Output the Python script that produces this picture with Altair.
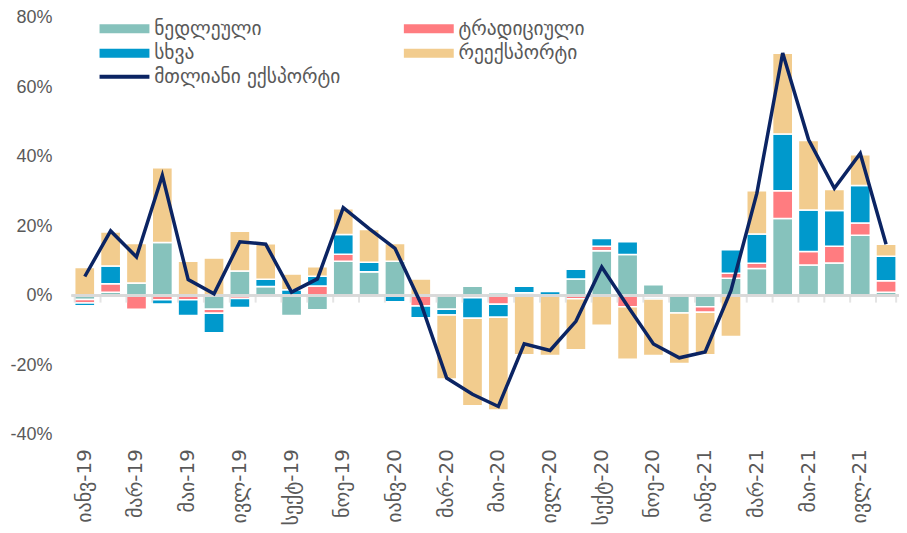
import altair as alt
import pandas as pd

months = [
    "იანვ-19", "თებ-19", "მარ-19", "აპრ-19", "მაი-19", "ივნ-19", "ივლ-19", "აგვ-19",
    "სექტ-19", "ოქტ-19", "ნოე-19", "დეკ-19",
    "იანვ-20", "თებ-20", "მარ-20", "აპრ-20", "მაი-20", "ივნ-20", "ივლ-20", "აგვ-20",
    "სექტ-20", "ოქტ-20", "ნოე-20", "დეკ-20",
    "იანვ-21", "თებ-21", "მარ-21", "აპრ-21", "მაი-21", "ივნ-21", "ივლ-21", "აგვ-21",
]

# contributions, percentage points
raw = [-1.1, 1.0, 3.6, 15.3, 0.0, -3.9, 7.1, 2.6,
       -5.7, -4.1, 9.9, 6.9,
       9.9, 0.0, -3.9, 2.7, 0.8, 0.8, 0.0, 4.8,
       12.9, 11.8, 3.1, -5.0,
       -3.2, 5.0, 7.8, 22.2, 8.8, 9.4, 17.4, 1.0]
traditional = [-1.0, 2.4, -3.9, -1.2, -1.2, -1.2, -0.8, 0.0,
               0.0, 2.8, 2.0, 0.0,
               0.0, -3.0, 0.0, -0.6, -2.5, 0.0, 0.0, -0.9,
               1.3, -3.2, -0.5, 0.5,
               -1.6, 1.4, 1.5, 8.0, 3.9, 4.8, 3.5, 3.3]
other = [-0.8, 5.1, 0.0, -1.2, -4.5, -5.6, -2.6, 2.1,
         1.7, 2.8, 5.7, 2.7,
         -1.8, -3.4, -1.7, -5.9, -3.7, 1.9, 1.2, 2.8,
         2.2, 3.7, -0.5, 0.5,
         0.5, 6.8, 8.4, 16.3, 11.9, 10.3, 10.8, 7.0]
reexport = [8.1, 9.8, 11.4, 21.5, 9.9, 10.8, 11.4, 10.2,
            4.5, 2.7, 7.4, 9.4,
            5.1, 4.8, -18.4, -25.2, -26.7, -17.0, -17.2, -14.7,
            -8.5, -15.1, -16.2, -14.5,
            -12.2, -11.8, 12.5, 23.2, 20.0, 6.0, 8.8, 3.5]
total = [5.5, 18.6, 11.1, 34.6, 4.6, 0.5, 15.5, 14.8,
         1.0, 4.8, 25.3, 19.3,
         13.6, -2.2, -23.7, -28.4, -31.9, -13.9, -15.8, -7.4,
         8.2, -3.0, -13.9, -17.9,
         -16.2, 1.5, 29.4, 69.8, 44.9, 30.9, 40.9, 14.8]

categories = ["ნედლეული", "ტრადიციული", "სხვა", "რეექსპორტი"]
cat_colors = ["#86C2BC", "#FF7C80", "#0099CC", "#F2CC8E"]
line_name = "მთლიანი ექსპორტი"
line_color = "#0B2463"

y_ticks = [-0.4, -0.2, 0.0, 0.2, 0.4, 0.6, 0.8]

rows = []
for i, m in enumerate(months):
    for k, (c, vals) in enumerate(zip(categories, [raw, traditional, other, reexport])):
        rows.append({"month": m, "cat": c, "ord": k, "value": vals[i] / 100})
bars_df = pd.DataFrame(rows)
line_df = pd.DataFrame({"month": months, "total": [v / 100 for v in total], "series": line_name})

W, H = 829, 418
FONT = "DejaVu Sans"
TXT = "#595959"
AXIS_GRAY = "#D9D9D9"

x_scale = alt.Scale(domain=months, paddingInner=0.22, paddingOuter=0.11)
y_scale = alt.Scale(domain=[-0.4, 0.8], nice=False, zero=False)
y_axis = alt.Axis(title=None, values=y_ticks, format=".0%",
                  labelExpr="replace(datum.label, '\u2212', '-')",
                  domain=False, ticks=False, grid=False, labelFontSize=18, labelColor=TXT,
                  labelFont="Liberation Sans", labelPadding=20)
x_axis = alt.Axis(title=None, orient="bottom", values=months[::2], labelAngle=-90,
                  domain=False, ticks=False, labelFontSize=20, labelColor=TXT,
                  labelFont=FONT, labelPadding=14)

bars = alt.Chart(bars_df).mark_bar(stroke="white", strokeWidth=1.5).encode(
    x=alt.X("month:N", scale=x_scale, sort=months, axis=x_axis),
    y=alt.Y("value:Q", stack="zero", scale=y_scale, axis=y_axis),
    color=alt.Color("cat:N", scale=alt.Scale(domain=categories, range=cat_colors),
                    legend=alt.Legend(title=None, orient="none", legendX=23, legendY=1,
                                      direction="horizontal", columns=2, columnPadding=137,
                                      rowPadding=4,
                                      symbolType="M-1,-0.9H9V0.9H-1Z", symbolSize=100,
                                      symbolStrokeWidth=0, labelOffset=40, labelLimit=400,
                                      labelFontSize=19.5, labelColor=TXT, labelFont=FONT,
                                      padding=0)),
    order=alt.Order("ord:Q"),
)

zero_rule = alt.Chart(line_df).mark_rule(color=AXIS_GRAY, strokeWidth=2).encode(
    y=alt.Y(datum=0, scale=y_scale, axis=y_axis),
)

tick_marks = alt.Chart(line_df).mark_tick(
    orient="vertical", color=AXIS_GRAY, thickness=2, size=7, yOffset=3.5
).encode(
    x=alt.X("month:N", scale=x_scale, sort=months, bandPosition=0, axis=x_axis),
    y=alt.Y(datum=0, scale=y_scale, axis=y_axis),
)

end_tick = alt.Chart(line_df).transform_filter(
    alt.datum.month == months[-1]
).mark_tick(
    orient="vertical", color=AXIS_GRAY, thickness=2, size=7, yOffset=3.5
).encode(
    x=alt.X("month:N", scale=x_scale, sort=months, bandPosition=1, axis=x_axis),
    y=alt.Y(datum=0, scale=y_scale, axis=y_axis),
)

line = alt.Chart(line_df).mark_line(strokeWidth=3.5).encode(
    x=alt.X("month:N", scale=x_scale, sort=months, axis=x_axis),
    y=alt.Y("total:Q", scale=y_scale, axis=y_axis),
    stroke=alt.Stroke("series:N", scale=alt.Scale(domain=[line_name], range=[line_color]),
                      legend=alt.Legend(title=None, orient="none", legendX=23, legendY=49.5,
                                        symbolType="M-1,0H9", symbolSize=100,
                                        symbolStrokeWidth=4, labelOffset=40, labelLimit=400,
                                        labelFontSize=19.5, labelColor=TXT, labelFont=FONT,
                                        padding=0)),
)

chart = alt.layer(bars, zero_rule, tick_marks, end_tick, line).resolve_scale(
    color="independent", stroke="independent"
).properties(
    width=W, height=H,
    autosize=alt.AutoSizeParams(type="none"),
    padding={"left": 64, "top": 9, "right": 0, "bottom": 98},
).configure_view(stroke=None)

chart.save("out.html", embed_options={"renderer": "svg", "actions": False})
